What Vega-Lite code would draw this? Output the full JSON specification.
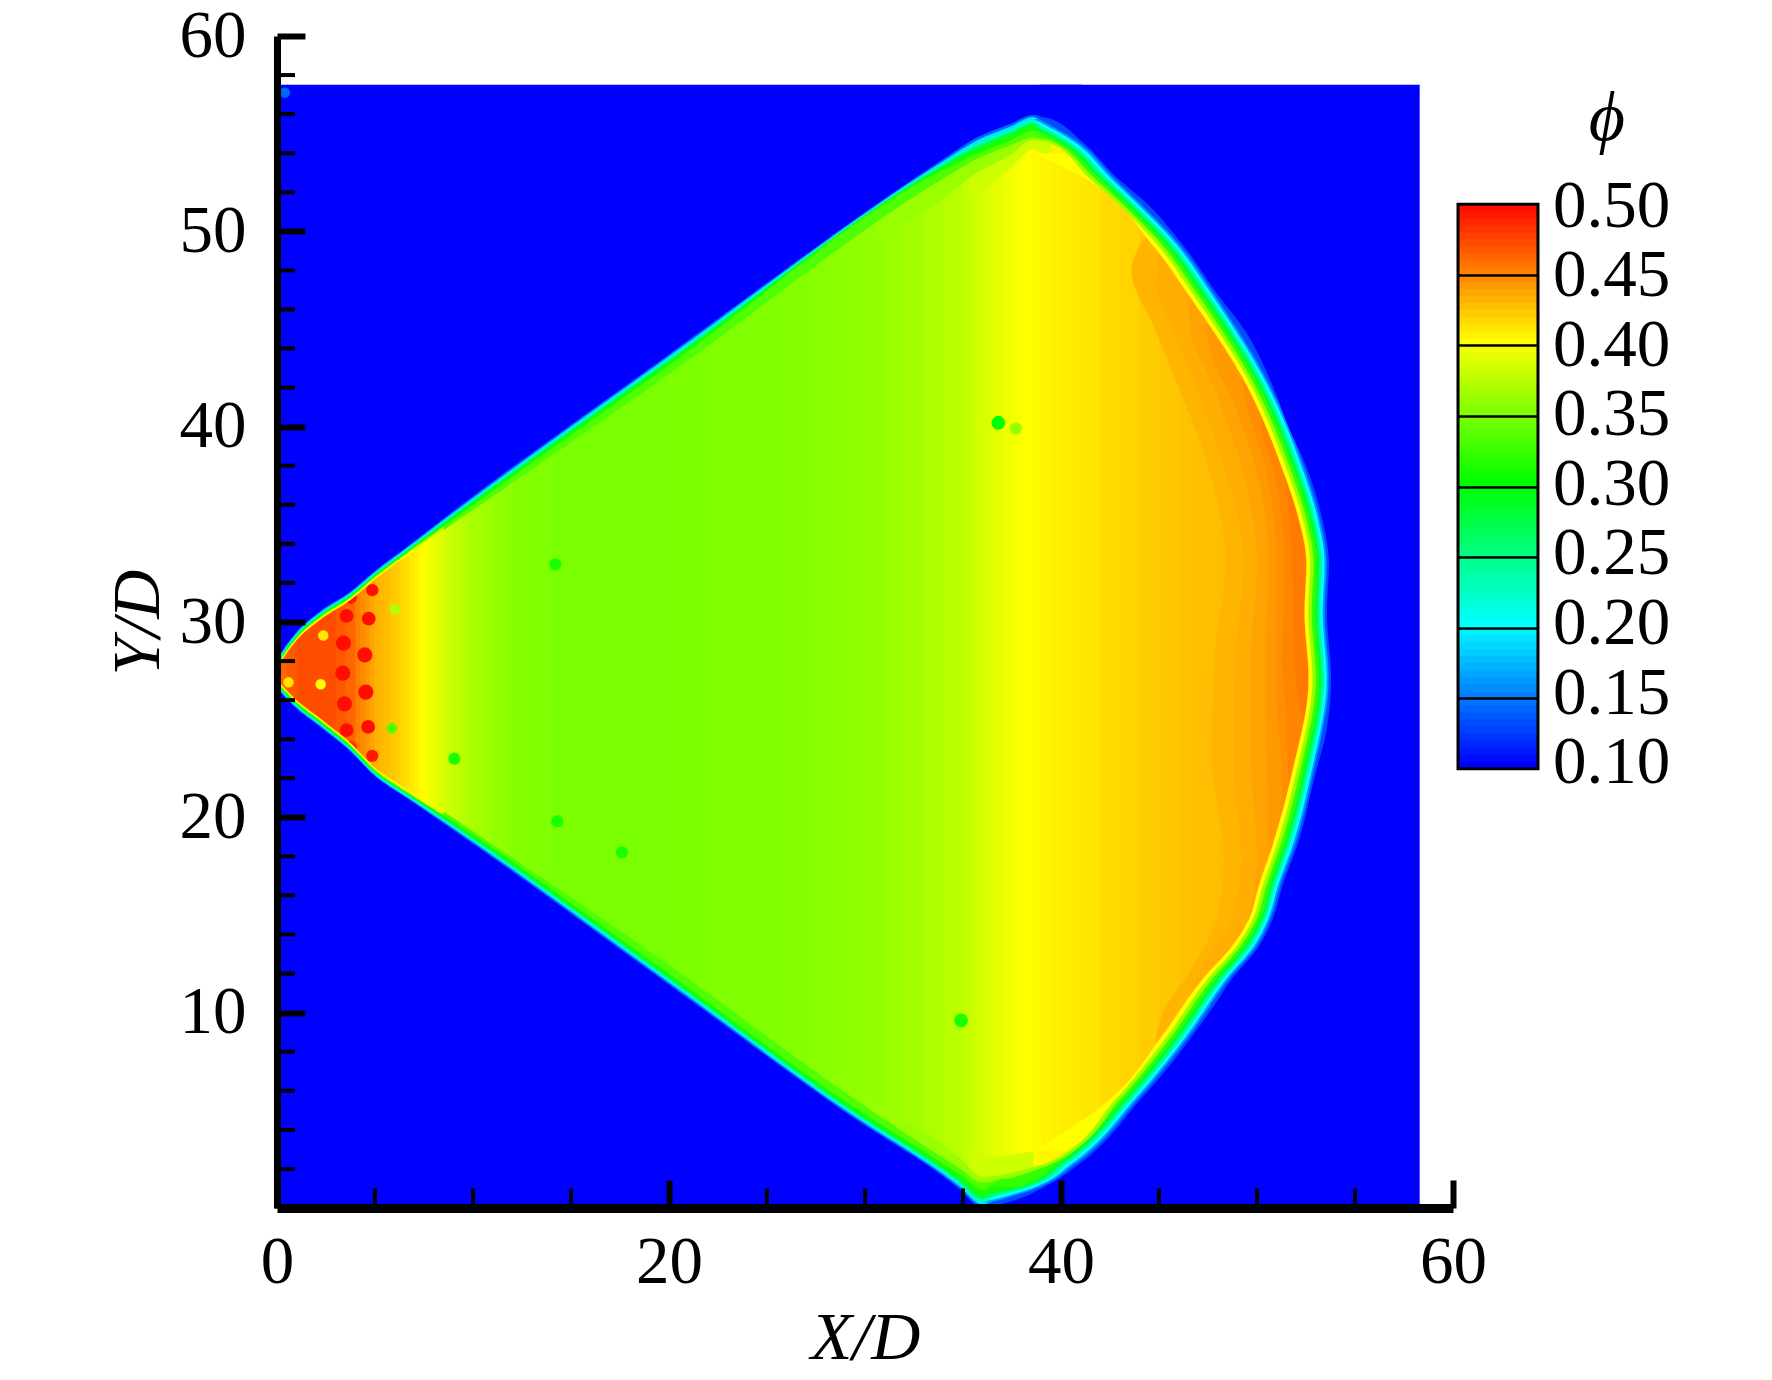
{
"$schema":"https://vega.github.io/schema/vega-lite/v6.json",
"background":"white",
"padding":{"left":104,"top":2,"right":20,"bottom":10},
"bounds":"flush",
"spacing":5,
"config":{"view":{"stroke":null},"font":"Liberation Serif"},
"datasets":{
"strips":[
{"x":0,"x2":0.6,"phi":0.46},{"x":0.5,"x2":1.1,"phi":0.465},{"x":1,"x2":3.1,"phi":0.47},{"x":3,"x2":3.6,"phi":0.465},{"x":3.5,"x2":4.1,"phi":0.46},{"x":4,"x2":4.3,"phi":0.45},{"x":4.25,"x2":4.55,"phi":0.445},{"x":4.5,"x2":4.8,"phi":0.44},{"x":4.75,"x2":5.05,"phi":0.435},{"x":5,"x2":5.3,"phi":0.43},{"x":5.25,"x2":5.55,"phi":0.427},{"x":5.5,"x2":5.8,"phi":0.425},{"x":5.75,"x2":6.05,"phi":0.422},{"x":6,"x2":6.3,"phi":0.42},{"x":6.25,"x2":6.55,"phi":0.416},{"x":6.5,"x2":6.8,"phi":0.413},{"x":6.75,"x2":7.05,"phi":0.409},{"x":7,"x2":7.3,"phi":0.405},{"x":7.25,"x2":7.55,"phi":0.401},{"x":7.5,"x2":7.8,"phi":0.398},{"x":7.75,"x2":8.05,"phi":0.394},{"x":8,"x2":8.3,"phi":0.39},{"x":8.25,"x2":8.55,"phi":0.386},{"x":8.5,"x2":8.8,"phi":0.383},{"x":8.75,"x2":9.05,"phi":0.379},{"x":9,"x2":9.3,"phi":0.376},{"x":9.25,"x2":9.55,"phi":0.373},{"x":9.5,"x2":9.8,"phi":0.37},{"x":9.75,"x2":10.05,"phi":0.367},{"x":10,"x2":10.6,"phi":0.365},{"x":10.5,"x2":11.1,"phi":0.361},{"x":11,"x2":11.6,"phi":0.358},{"x":11.5,"x2":12.1,"phi":0.355},{"x":12,"x2":13.1,"phi":0.352},{"x":13,"x2":14.1,"phi":0.35},{"x":14,"x2":16.1,"phi":0.348},{"x":16,"x2":20.1,"phi":0.348},{"x":20,"x2":22.1,"phi":0.349},{"x":22,"x2":24.1,"phi":0.35},{"x":24,"x2":26.1,"phi":0.351},{"x":26,"x2":27.1,"phi":0.352},{"x":27,"x2":28.1,"phi":0.353},{"x":28,"x2":29.1,"phi":0.355},{"x":29,"x2":30.1,"phi":0.356},{"x":30,"x2":31.1,"phi":0.358},{"x":31,"x2":32.1,"phi":0.361},{"x":32,"x2":33.1,"phi":0.364},{"x":33,"x2":34.1,"phi":0.368},{"x":34,"x2":35.1,"phi":0.372},{"x":35,"x2":35.6,"phi":0.377},{"x":35.5,"x2":36.1,"phi":0.381},{"x":36,"x2":36.6,"phi":0.385},{"x":36.5,"x2":37.1,"phi":0.389},{"x":37,"x2":37.6,"phi":0.393},{"x":37.5,"x2":38.1,"phi":0.397},{"x":38,"x2":38.6,"phi":0.4},{"x":38.5,"x2":39.1,"phi":0.402},{"x":39,"x2":39.6,"phi":0.404},{"x":39.5,"x2":40.1,"phi":0.405},{"x":40,"x2":40.6,"phi":0.407},{"x":40.5,"x2":41.1,"phi":0.408},{"x":41,"x2":42.1,"phi":0.41},{"x":42,"x2":43.1,"phi":0.414},{"x":43,"x2":44.1,"phi":0.417},{"x":44,"x2":45.1,"phi":0.42},{"x":45,"x2":46.1,"phi":0.422},{"x":46,"x2":47.1,"phi":0.424},{"x":47,"x2":48.1,"phi":0.425},{"x":48,"x2":50.1,"phi":0.426},{"x":50,"x2":52.1,"phi":0.428},{"x":52,"x2":54.5,"phi":0.43}
],
"crescent":[
{"y":8.5,"x":44.8,"phi":0.429},{"y":10,"x":45.2,"phi":0.429},{"y":12,"x":46.5,"phi":0.429},{"y":15,"x":48,"phi":0.429},{"y":18,"x":48.3,"phi":0.429},{"y":23,"x":47.7,"phi":0.429},{"y":28,"x":47.8,"phi":0.429},{"y":33,"x":48.4,"phi":0.429},{"y":38,"x":47.5,"phi":0.429},{"y":42,"x":46,"phi":0.429},{"y":45,"x":44.8,"phi":0.429},{"y":48,"x":43.6,"phi":0.429},{"y":50,"x":44.5,"phi":0.429},
{"y":10,"x":46.2,"phi":0.432},{"y":12,"x":47,"phi":0.432},{"y":15,"x":48.8,"phi":0.432},{"y":18,"x":49.2,"phi":0.432},{"y":23,"x":48.8,"phi":0.432},{"y":28,"x":48.9,"phi":0.432},{"y":33,"x":49.3,"phi":0.432},{"y":38,"x":48.3,"phi":0.432},{"y":42,"x":46.9,"phi":0.432},{"y":45,"x":45.7,"phi":0.432},{"y":47,"x":44.9,"phi":0.432},{"y":49,"x":45,"phi":0.432},
{"y":12,"x":47.7,"phi":0.436},{"y":15,"x":49.6,"phi":0.436},{"y":18,"x":50,"phi":0.436},{"y":23,"x":49.7,"phi":0.436},{"y":28,"x":49.7,"phi":0.436},{"y":33,"x":50,"phi":0.436},{"y":38,"x":49.2,"phi":0.436},{"y":42,"x":47.8,"phi":0.436},{"y":45,"x":46.6,"phi":0.436},{"y":47,"x":46.5,"phi":0.436},
{"y":15,"x":50,"phi":0.44},{"y":18,"x":50.6,"phi":0.44},{"y":23,"x":50.5,"phi":0.44},{"y":28,"x":50.4,"phi":0.44},{"y":33,"x":50.6,"phi":0.44},{"y":38,"x":49.9,"phi":0.44},{"y":41,"x":48.9,"phi":0.44},{"y":44,"x":47.6,"phi":0.44},{"y":45.3,"x":47.4,"phi":0.44},
{"y":18,"x":51,"phi":0.444},{"y":22,"x":51.3,"phi":0.444},{"y":26,"x":51,"phi":0.444},{"y":33,"x":51,"phi":0.444},{"y":38,"x":50.4,"phi":0.444},{"y":41,"x":49.5,"phi":0.444},{"y":43,"x":49.1,"phi":0.444},
{"y":21,"x":51.6,"phi":0.448},{"y":25,"x":51.5,"phi":0.448},{"y":28,"x":51.3,"phi":0.448},{"y":33,"x":51.4,"phi":0.448},{"y":38,"x":50.8,"phi":0.448},{"y":40,"x":50.2,"phi":0.448},{"y":41,"x":50.2,"phi":0.448},
{"y":25,"x":52.3,"phi":0.452},{"y":28,"x":51.9,"phi":0.452},{"y":33,"x":51.8,"phi":0.452},{"y":36,"x":51.6,"phi":0.452},{"y":38,"x":51.4,"phi":0.452}
],
"spots":[
{"x":4.86,"y":31.63,"phi":0.495,"kind":"small"},{"x":3.77,"y":31.24,"phi":0.49,"kind":"small"},{"x":3.55,"y":30.31,"phi":0.495,"kind":"mid"},{"x":4.68,"y":30.17,"phi":0.495,"kind":"mid"},{"x":3.39,"y":28.92,"phi":0.495,"kind":"large"},{"x":4.48,"y":28.32,"phi":0.495,"kind":"large"},{"x":3.36,"y":27.38,"phi":0.495,"kind":"large"},{"x":4.53,"y":26.41,"phi":0.495,"kind":"large"},{"x":3.44,"y":25.81,"phi":0.495,"kind":"large"},{"x":3.55,"y":24.46,"phi":0.495,"kind":"mid"},{"x":4.65,"y":24.63,"phi":0.495,"kind":"mid"},{"x":3.77,"y":23.61,"phi":0.48,"kind":"small"},{"x":4.86,"y":23.15,"phi":0.49,"kind":"small"},
{"x":6.03,"y":30.65,"phi":0.37,"kind":"tiny"},{"x":2.36,"y":29.31,"phi":0.41,"kind":"tiny"},{"x":0.59,"y":26.91,"phi":0.41,"kind":"tiny"},{"x":2.23,"y":26.81,"phi":0.4,"kind":"tiny"},{"x":5.86,"y":24.56,"phi":0.33,"kind":"tiny"},{"x":9.05,"y":23.0,"phi":0.31,"kind":"small"},{"x":14.2,"y":32.95,"phi":0.31,"kind":"small"},{"x":14.3,"y":19.8,"phi":0.31,"kind":"small"},{"x":17.6,"y":18.2,"phi":0.31,"kind":"small"},{"x":34.9,"y":9.6,"phi":0.31,"kind":"mid"},{"x":36.8,"y":40.2,"phi":0.3,"kind":"mid"},{"x":37.7,"y":39.9,"phi":0.36,"kind":"small"},{"x":0.4,"y":57.1,"phi":0.14,"kind":"tiny"}
],
"upper":[
{"x":0,"y":27.66,"phi":0.4},{"x":0.6,"y":28.56,"phi":0.4},{"x":1,"y":29.06,"phi":0.4},{"x":2.2,"y":30.11,"phi":0.4},{"x":3.8,"y":31.16,"phi":0.4},{"x":5.1,"y":32.26,"phi":0.4},{"x":6.3,"y":33.16,"phi":0.4},{"x":7,"y":33.6,"phi":0.4},
{"x":35.3,"y":51.6,"phi":0.38},{"x":35.7,"y":51.9,"phi":0.38},{"x":37.4,"y":53.2,"phi":0.38},{"x":38.6,"y":54.2,"phi":0.38},{"x":39.5,"y":53.6,"phi":0.38},
{"x":0,"y":27.74,"phi":0.361},{"x":0.6,"y":28.64,"phi":0.361},{"x":1,"y":29.14,"phi":0.361},{"x":2.2,"y":30.19,"phi":0.361},{"x":3.8,"y":31.24,"phi":0.361},{"x":5.1,"y":32.34,"phi":0.361},{"x":6.3,"y":33.24,"phi":0.361},{"x":8.5,"y":34.8,"phi":0.361},{"x":10,"y":35.9,"phi":0.361},
{"x":30.6,"y":49.6,"phi":0.36},{"x":34,"y":51.7,"phi":0.36},{"x":35.7,"y":53.0,"phi":0.36},{"x":37.4,"y":53.9,"phi":0.36},{"x":38.6,"y":54.7,"phi":0.36},{"x":39.27,"y":54.6,"phi":0.36},
{"x":8.5,"y":34.7,"phi":0.33},{"x":20,"y":42.7,"phi":0.33},{"x":34,"y":52.7,"phi":0.33},{"x":35.7,"y":53.7,"phi":0.33},{"x":37.4,"y":54.4,"phi":0.33},{"x":38.6,"y":54.8,"phi":0.33},{"x":39.3,"y":54.6,"phi":0.33},
{"x":0,"y":27.8,"phi":0.31},{"x":0.6,"y":28.7,"phi":0.31},{"x":1,"y":29.2,"phi":0.31},{"x":2.2,"y":30.25,"phi":0.31},{"x":3.8,"y":31.3,"phi":0.31},{"x":5.1,"y":32.4,"phi":0.31},{"x":6.3,"y":33.3,"phi":0.31},{"x":8.5,"y":34.9,"phi":0.31},{"x":20,"y":43.15,"phi":0.31},{"x":34,"y":53.15,"phi":0.31},{"x":35.7,"y":53.95,"phi":0.31},{"x":37.4,"y":54.65,"phi":0.31},{"x":38.6,"y":55.15,"phi":0.31},{"x":39.59,"y":54.6,"phi":0.31},
{"x":0,"y":27.86,"phi":0.27},{"x":0.6,"y":28.76,"phi":0.27},{"x":1,"y":29.26,"phi":0.27},{"x":2.2,"y":30.31,"phi":0.27},{"x":3.8,"y":31.36,"phi":0.27},{"x":5.1,"y":32.46,"phi":0.27},{"x":6.3,"y":33.36,"phi":0.27},{"x":8.5,"y":35.0,"phi":0.27},{"x":20,"y":43.3,"phi":0.27},{"x":34,"y":53.3,"phi":0.27},{"x":35.7,"y":54.2,"phi":0.27},{"x":37.4,"y":54.9,"phi":0.27},{"x":38.6,"y":55.4,"phi":0.27},{"x":39.89,"y":54.6,"phi":0.27},
{"x":0,"y":27.92,"phi":0.23},{"x":0.6,"y":28.82,"phi":0.23},{"x":1,"y":29.32,"phi":0.23},{"x":2.2,"y":30.37,"phi":0.23},{"x":3.8,"y":31.42,"phi":0.23},{"x":5.1,"y":32.52,"phi":0.23},{"x":6.3,"y":33.42,"phi":0.23},{"x":8.5,"y":35.08,"phi":0.23},{"x":20,"y":43.4,"phi":0.23},{"x":34,"y":53.4,"phi":0.23},{"x":35.7,"y":54.35,"phi":0.23},{"x":37.4,"y":55.05,"phi":0.23},{"x":38.6,"y":55.55,"phi":0.23},{"x":40.16,"y":54.6,"phi":0.23},
{"x":0,"y":27.98,"phi":0.19},{"x":0.6,"y":28.88,"phi":0.19},{"x":1,"y":29.38,"phi":0.19},{"x":2.2,"y":30.43,"phi":0.19},{"x":3.8,"y":31.48,"phi":0.19},{"x":5.1,"y":32.58,"phi":0.19},{"x":6.3,"y":33.48,"phi":0.19},{"x":8.5,"y":35.15,"phi":0.19},{"x":20,"y":43.5,"phi":0.19},{"x":34,"y":53.5,"phi":0.19},{"x":35.7,"y":54.5,"phi":0.19},{"x":37.4,"y":55.2,"phi":0.19},{"x":38.6,"y":55.7,"phi":0.19},{"x":40.4,"y":54.6,"phi":0.19},
{"x":0,"y":28.04,"phi":0.14},{"x":0.6,"y":28.94,"phi":0.14},{"x":1,"y":29.44,"phi":0.14},{"x":2.2,"y":30.49,"phi":0.14},{"x":3.8,"y":31.54,"phi":0.14},{"x":5.1,"y":32.64,"phi":0.14},{"x":6.3,"y":33.54,"phi":0.14},{"x":8.5,"y":35.22,"phi":0.14},{"x":20,"y":43.6,"phi":0.14},{"x":34,"y":53.6,"phi":0.14},{"x":35.7,"y":54.65,"phi":0.14},{"x":37.4,"y":55.35,"phi":0.14},{"x":38.6,"y":55.85,"phi":0.14},{"x":40.84,"y":54.6,"phi":0.14},
{"x":0,"y":28.1,"phi":0.1},{"x":0.6,"y":29.0,"phi":0.1},{"x":1,"y":29.5,"phi":0.1},{"x":2.2,"y":30.55,"phi":0.1},{"x":3.8,"y":31.6,"phi":0.1},{"x":5.1,"y":32.7,"phi":0.1},{"x":6.3,"y":33.6,"phi":0.1},{"x":8.5,"y":35.3,"phi":0.1},{"x":20,"y":43.7,"phi":0.1},{"x":34,"y":53.7,"phi":0.1},{"x":35.7,"y":54.8,"phi":0.1},{"x":37.4,"y":55.5,"phi":0.1},{"x":38.6,"y":55.95,"phi":0.1},{"x":38.9,"y":55.9,"phi":0.1},{"x":39.5,"y":55.76,"phi":0.1},{"x":41.07,"y":54.6,"phi":0.1}
],
"lower":[
{"x":0,"y":27.04,"phi":0.4},{"x":0.9,"y":26.09,"phi":0.4},{"x":2.24,"y":25.04,"phi":0.4},{"x":3.6,"y":23.94,"phi":0.4},{"x":5,"y":22.54,"phi":0.4},{"x":6.6,"y":21.44,"phi":0.4},{"x":7,"y":21.15,"phi":0.4},
{"x":35.3,"y":3.2,"phi":0.38},{"x":36,"y":2.6,"phi":0.38},{"x":38.6,"y":2.9,"phi":0.38},
{"x":0,"y":26.96,"phi":0.361},{"x":0.9,"y":26.01,"phi":0.361},{"x":2.24,"y":24.96,"phi":0.361},{"x":3.6,"y":23.86,"phi":0.361},{"x":5,"y":22.46,"phi":0.361},{"x":6.6,"y":21.36,"phi":0.361},{"x":8.5,"y":20.06,"phi":0.361},{"x":10,"y":19.06,"phi":0.361},
{"x":30,"y":5.7,"phi":0.36},{"x":34.8,"y":2.6,"phi":0.36},{"x":36,"y":1.6,"phi":0.36},{"x":39.29,"y":2.3,"phi":0.36},
{"x":8.5,"y":20.3,"phi":0.33},{"x":20,"y":12.44,"phi":0.33},{"x":29,"y":5.9,"phi":0.33},{"x":34.8,"y":2.05,"phi":0.33},{"x":36,"y":1.3,"phi":0.33},{"x":38,"y":1.9,"phi":0.33},{"x":39.4,"y":2.3,"phi":0.33},
{"x":0,"y":26.9,"phi":0.31},{"x":0.9,"y":25.95,"phi":0.31},{"x":2.24,"y":24.9,"phi":0.31},{"x":3.6,"y":23.8,"phi":0.31},{"x":5,"y":22.4,"phi":0.31},{"x":6.6,"y":21.3,"phi":0.31},{"x":8.5,"y":20.1,"phi":0.31},{"x":20,"y":11.99,"phi":0.31},{"x":29,"y":5.45,"phi":0.31},{"x":34.8,"y":1.75,"phi":0.31},{"x":36,"y":0.95,"phi":0.31},{"x":37,"y":1.45,"phi":0.31},{"x":39.6,"y":2.3,"phi":0.31},
{"x":0,"y":26.84,"phi":0.27},{"x":0.9,"y":25.89,"phi":0.27},{"x":2.24,"y":24.84,"phi":0.27},{"x":3.6,"y":23.74,"phi":0.27},{"x":5,"y":22.34,"phi":0.27},{"x":6.6,"y":21.24,"phi":0.27},{"x":8.5,"y":20.0,"phi":0.27},{"x":20,"y":11.84,"phi":0.27},{"x":29,"y":5.3,"phi":0.27},{"x":34.8,"y":1.5,"phi":0.27},{"x":36,"y":0.65,"phi":0.27},{"x":37.74,"y":1.05,"phi":0.27},{"x":39.88,"y":2.3,"phi":0.27},
{"x":0,"y":26.78,"phi":0.23},{"x":0.9,"y":25.83,"phi":0.23},{"x":2.24,"y":24.78,"phi":0.23},{"x":3.6,"y":23.68,"phi":0.23},{"x":5,"y":22.28,"phi":0.23},{"x":6.6,"y":21.18,"phi":0.23},{"x":8.5,"y":19.92,"phi":0.23},{"x":20,"y":11.74,"phi":0.23},{"x":29,"y":5.2,"phi":0.23},{"x":34.8,"y":1.38,"phi":0.23},{"x":36,"y":0.45,"phi":0.23},{"x":38.04,"y":1.05,"phi":0.23},{"x":40.14,"y":2.3,"phi":0.23},
{"x":0,"y":26.72,"phi":0.19},{"x":0.9,"y":25.77,"phi":0.19},{"x":2.24,"y":24.72,"phi":0.19},{"x":3.6,"y":23.62,"phi":0.19},{"x":5,"y":22.22,"phi":0.19},{"x":6.6,"y":21.12,"phi":0.19},{"x":8.5,"y":19.85,"phi":0.19},{"x":20,"y":11.64,"phi":0.19},{"x":29,"y":5.1,"phi":0.19},{"x":34.8,"y":1.25,"phi":0.19},{"x":36,"y":0.3,"phi":0.19},{"x":37.4,"y":0.75,"phi":0.19},{"x":38.33,"y":1.05,"phi":0.19},{"x":40.37,"y":2.3,"phi":0.19},
{"x":0,"y":26.66,"phi":0.14},{"x":0.9,"y":25.71,"phi":0.14},{"x":2.24,"y":24.66,"phi":0.14},{"x":3.6,"y":23.56,"phi":0.14},{"x":5,"y":22.16,"phi":0.14},{"x":6.6,"y":21.06,"phi":0.14},{"x":8.5,"y":19.78,"phi":0.14},{"x":20,"y":11.54,"phi":0.14},{"x":29,"y":5.0,"phi":0.14},{"x":34.8,"y":1.12,"phi":0.14},{"x":36,"y":0.15,"phi":0.14},{"x":37.4,"y":0.55,"phi":0.14},{"x":38.84,"y":1.05,"phi":0.14},{"x":40.78,"y":2.3,"phi":0.14},
{"x":0,"y":26.6,"phi":0.1},{"x":0.9,"y":25.65,"phi":0.1},{"x":2.24,"y":24.6,"phi":0.1},{"x":3.6,"y":23.5,"phi":0.1},{"x":5,"y":22.1,"phi":0.1},{"x":6.6,"y":21.0,"phi":0.1},{"x":8.5,"y":19.7,"phi":0.1},{"x":20,"y":11.44,"phi":0.1},{"x":29,"y":4.9,"phi":0.1},{"x":34.8,"y":1.0,"phi":0.1},{"x":36,"y":0,"phi":0.1},{"x":37.3,"y":0.3,"phi":0.1},{"x":39.1,"y":1.05,"phi":0.1},{"x":41,"y":2.3,"phi":0.1}
],
"right":[
{"y":2.9,"x":38.6,"phi":0.4},{"y":5.6,"x":42.55,"phi":0.4},{"y":8.8,"x":45.15,"phi":0.4},{"y":11.7,"x":47.2,"phi":0.4},{"y":13.4,"x":48.72,"phi":0.4},{"y":14.8,"x":49.59,"phi":0.4},{"y":16.5,"x":50.09,"phi":0.4},{"y":18.7,"x":50.83,"phi":0.4},{"y":22.3,"x":51.79,"phi":0.4},{"y":27.1,"x":52.63,"phi":0.4},{"y":30.5,"x":52.42,"phi":0.4},{"y":33,"x":52.52,"phi":0.4},{"y":35.4,"x":52.09,"phi":0.4},{"y":38,"x":51.23,"phi":0.4},{"y":42.1,"x":49.48,"phi":0.4},{"y":46.9,"x":46.4,"phi":0.4},{"y":49.2,"x":44.75,"phi":0.4},{"y":52.8,"x":41.07,"phi":0.4},{"y":54.0,"x":38.6,"phi":0.4},
{"y":1.5,"x":36,"phi":0.36},{"y":2.3,"x":39.29,"phi":0.36},{"y":5.6,"x":42.82,"phi":0.36},{"y":8.8,"x":45.42,"phi":0.36},{"y":11.7,"x":47.46,"phi":0.36},{"y":13.4,"x":48.96,"phi":0.36},{"y":14.8,"x":49.8,"phi":0.36},{"y":16.5,"x":50.3,"phi":0.36},{"y":18.7,"x":51.05,"phi":0.36},{"y":22.3,"x":52.0,"phi":0.36},{"y":27.1,"x":52.83,"phi":0.36},{"y":30.5,"x":52.62,"phi":0.36},{"y":33,"x":52.72,"phi":0.36},{"y":35.4,"x":52.3,"phi":0.36},{"y":38,"x":51.45,"phi":0.36},{"y":42.1,"x":49.71,"phi":0.36},{"y":46.9,"x":46.66,"phi":0.36},{"y":49.2,"x":45.02,"phi":0.36},{"y":52.8,"x":41.37,"phi":0.36},{"y":54.6,"x":39.27,"phi":0.36},{"y":54.7,"x":38.6,"phi":0.36},
{"y":1.1,"x":36,"phi":0.32},{"y":2.3,"x":39.6,"phi":0.32},{"y":5.6,"x":43.05,"phi":0.32},{"y":8.8,"x":45.65,"phi":0.32},{"y":11.7,"x":47.69,"phi":0.32},{"y":13.4,"x":49.16,"phi":0.32},{"y":14.8,"x":49.98,"phi":0.32},{"y":16.5,"x":50.48,"phi":0.32},{"y":18.7,"x":51.24,"phi":0.32},{"y":22.3,"x":52.18,"phi":0.32},{"y":27.1,"x":53.0,"phi":0.32},{"y":30.5,"x":52.79,"phi":0.32},{"y":33,"x":52.89,"phi":0.32},{"y":35.4,"x":52.48,"phi":0.32},{"y":38,"x":51.64,"phi":0.32},{"y":42.1,"x":49.9,"phi":0.32},{"y":46.9,"x":46.89,"phi":0.32},{"y":49.2,"x":45.25,"phi":0.32},{"y":52.8,"x":41.63,"phi":0.32},{"y":54.6,"x":39.59,"phi":0.32},{"y":55.05,"x":38.6,"phi":0.32},
{"y":0.85,"x":36,"phi":0.28},{"y":1.05,"x":37.74,"phi":0.28},{"y":2.3,"x":39.88,"phi":0.28},{"y":5.6,"x":43.26,"phi":0.28},{"y":8.8,"x":45.86,"phi":0.28},{"y":11.7,"x":47.89,"phi":0.28},{"y":13.4,"x":49.36,"phi":0.28},{"y":14.8,"x":50.15,"phi":0.28},{"y":16.5,"x":50.65,"phi":0.28},{"y":18.7,"x":51.42,"phi":0.28},{"y":22.3,"x":52.35,"phi":0.28},{"y":27.1,"x":53.16,"phi":0.28},{"y":30.5,"x":52.95,"phi":0.28},{"y":33,"x":53.05,"phi":0.28},{"y":35.4,"x":52.65,"phi":0.28},{"y":38,"x":51.82,"phi":0.28},{"y":42.1,"x":50.09,"phi":0.28},{"y":46.9,"x":47.09,"phi":0.28},{"y":49.2,"x":45.46,"phi":0.28},{"y":52.8,"x":41.87,"phi":0.28},{"y":54.6,"x":39.89,"phi":0.28},{"y":55.25,"x":38.6,"phi":0.28},
{"y":0.65,"x":36,"phi":0.24},{"y":1.05,"x":38.04,"phi":0.24},{"y":2.3,"x":40.14,"phi":0.24},{"y":5.6,"x":43.45,"phi":0.24},{"y":8.8,"x":46.05,"phi":0.24},{"y":11.7,"x":48.08,"phi":0.24},{"y":13.4,"x":49.52,"phi":0.24},{"y":14.8,"x":50.3,"phi":0.24},{"y":16.5,"x":50.8,"phi":0.24},{"y":18.7,"x":51.57,"phi":0.24},{"y":22.3,"x":52.5,"phi":0.24},{"y":27.1,"x":53.3,"phi":0.24},{"y":30.5,"x":53.09,"phi":0.24},{"y":33,"x":53.19,"phi":0.24},{"y":35.4,"x":52.8,"phi":0.24},{"y":38,"x":51.97,"phi":0.24},{"y":42.1,"x":50.25,"phi":0.24},{"y":46.9,"x":47.28,"phi":0.24},{"y":49.2,"x":45.65,"phi":0.24},{"y":52.8,"x":42.08,"phi":0.24},{"y":54.6,"x":40.16,"phi":0.24},{"y":55.4,"x":38.6,"phi":0.24},
{"y":0.45,"x":36,"phi":0.2},{"y":1.05,"x":38.33,"phi":0.2},{"y":2.3,"x":40.37,"phi":0.2},{"y":5.6,"x":43.63,"phi":0.2},{"y":8.8,"x":46.23,"phi":0.2},{"y":11.7,"x":48.24,"phi":0.2},{"y":13.4,"x":49.68,"phi":0.2},{"y":14.8,"x":50.43,"phi":0.2},{"y":16.5,"x":50.93,"phi":0.2},{"y":18.7,"x":51.71,"phi":0.2},{"y":22.3,"x":52.63,"phi":0.2},{"y":27.1,"x":53.43,"phi":0.2},{"y":30.5,"x":53.22,"phi":0.2},{"y":33,"x":53.32,"phi":0.2},{"y":35.4,"x":52.93,"phi":0.2},{"y":38,"x":52.11,"phi":0.2},{"y":42.1,"x":50.4,"phi":0.2},{"y":46.9,"x":47.44,"phi":0.2},{"y":49.2,"x":45.83,"phi":0.2},{"y":52.8,"x":42.27,"phi":0.2},{"y":54.6,"x":40.4,"phi":0.2},{"y":55.6,"x":38.6,"phi":0.2},
{"y":0.28,"x":36,"phi":0.16},{"y":1.05,"x":38.62,"phi":0.16},{"y":2.3,"x":40.6,"phi":0.16},{"y":5.6,"x":43.8,"phi":0.16},{"y":8.8,"x":46.4,"phi":0.16},{"y":11.7,"x":48.41,"phi":0.16},{"y":13.4,"x":49.84,"phi":0.16},{"y":14.8,"x":50.57,"phi":0.16},{"y":16.5,"x":51.07,"phi":0.16},{"y":18.7,"x":51.86,"phi":0.16},{"y":22.3,"x":52.77,"phi":0.16},{"y":27.1,"x":53.56,"phi":0.16},{"y":30.5,"x":53.35,"phi":0.16},{"y":33,"x":53.45,"phi":0.16},{"y":35.4,"x":53.07,"phi":0.16},{"y":38,"x":52.26,"phi":0.16},{"y":42.1,"x":50.55,"phi":0.16},{"y":46.9,"x":47.61,"phi":0.16},{"y":49.2,"x":46.0,"phi":0.16},{"y":52.8,"x":42.47,"phi":0.16},{"y":54.6,"x":40.65,"phi":0.16},{"y":55.75,"x":38.6,"phi":0.16},
{"y":0.15,"x":36,"phi":0.13},{"y":1.05,"x":38.84,"phi":0.13},{"y":2.3,"x":40.78,"phi":0.13},{"y":5.6,"x":43.94,"phi":0.13},{"y":8.8,"x":46.54,"phi":0.13},{"y":11.7,"x":48.54,"phi":0.13},{"y":13.4,"x":49.96,"phi":0.13},{"y":14.8,"x":50.67,"phi":0.13},{"y":16.5,"x":51.17,"phi":0.13},{"y":18.7,"x":51.97,"phi":0.13},{"y":22.3,"x":52.87,"phi":0.13},{"y":27.1,"x":53.66,"phi":0.13},{"y":30.5,"x":53.45,"phi":0.13},{"y":33,"x":53.55,"phi":0.13},{"y":35.4,"x":53.17,"phi":0.13},{"y":38,"x":52.37,"phi":0.13},{"y":42.1,"x":50.66,"phi":0.13},{"y":46.9,"x":47.74,"phi":0.13},{"y":49.2,"x":46.14,"phi":0.13},{"y":52.8,"x":42.62,"phi":0.13},{"y":54.6,"x":40.84,"phi":0.13},{"y":55.88,"x":38.6,"phi":0.13},
{"y":0,"x":36,"phi":0.1},{"y":0.3,"x":37.3,"phi":0.1},{"y":1.05,"x":39.1,"phi":0.1},{"y":2.3,"x":41,"phi":0.1},{"y":5.6,"x":44.1,"phi":0.1},{"y":7.1,"x":45.4,"phi":0.1},{"y":8.8,"x":46.7,"phi":0.1},{"y":10.2,"x":47.7,"phi":0.1},{"y":11.7,"x":48.7,"phi":0.1},{"y":13.4,"x":50.1,"phi":0.1},{"y":14.8,"x":50.8,"phi":0.1},{"y":16.5,"x":51.3,"phi":0.1},{"y":18.7,"x":52.1,"phi":0.1},{"y":22.3,"x":53.0,"phi":0.1},{"y":24.2,"x":53.5,"phi":0.1},{"y":27.1,"x":53.78,"phi":0.1},{"y":30.5,"x":53.57,"phi":0.1},{"y":33,"x":53.67,"phi":0.1},{"y":35.4,"x":53.3,"phi":0.1},{"y":38,"x":52.5,"phi":0.1},{"y":40,"x":51.6,"phi":0.1},{"y":42.1,"x":50.8,"phi":0.1},{"y":44.9,"x":49.4,"phi":0.1},{"y":46.9,"x":47.9,"phi":0.1},{"y":49.2,"x":46.3,"phi":0.1},{"y":51.5,"x":44.3,"phi":0.1},{"y":52.8,"x":42.8,"phi":0.1},{"y":54.6,"x":41.07,"phi":0.1},{"y":55.76,"x":39.5,"phi":0.1},{"y":55.9,"x":38.9,"phi":0.1},{"y":57.5,"x":38.9,"phi":0.1}
],
"xminor":[{"t":5},{"t":10},{"t":15},{"t":25},{"t":30},{"t":35},{"t":45},{"t":50},{"t":55}],
"yminor":[{"t":2},{"t":4},{"t":6},{"t":8},{"t":12},{"t":14},{"t":16},{"t":18},{"t":22},{"t":24},{"t":26},{"t":28},{"t":32},{"t":34},{"t":36},{"t":38},{"t":42},{"t":44},{"t":46},{"t":48},{"t":52},{"t":54},{"t":56},{"t":58}],
"bar":[
{"v":0.1,"v2":0.106},{"v":0.105,"v2":0.111},{"v":0.11,"v2":0.116},{"v":0.115,"v2":0.121},{"v":0.12,"v2":0.126},{"v":0.125,"v2":0.131},{"v":0.13,"v2":0.136},{"v":0.135,"v2":0.141},{"v":0.14,"v2":0.146},{"v":0.145,"v2":0.151},{"v":0.15,"v2":0.156},{"v":0.155,"v2":0.161},{"v":0.16,"v2":0.166},{"v":0.165,"v2":0.171},{"v":0.17,"v2":0.176},{"v":0.175,"v2":0.181},{"v":0.18,"v2":0.186},{"v":0.185,"v2":0.191},{"v":0.19,"v2":0.196},{"v":0.195,"v2":0.201},
{"v":0.2,"v2":0.206},{"v":0.205,"v2":0.211},{"v":0.21,"v2":0.216},{"v":0.215,"v2":0.221},{"v":0.22,"v2":0.226},{"v":0.225,"v2":0.231},{"v":0.23,"v2":0.236},{"v":0.235,"v2":0.241},{"v":0.24,"v2":0.246},{"v":0.245,"v2":0.251},{"v":0.25,"v2":0.256},{"v":0.255,"v2":0.261},{"v":0.26,"v2":0.266},{"v":0.265,"v2":0.271},{"v":0.27,"v2":0.276},{"v":0.275,"v2":0.281},{"v":0.28,"v2":0.286},{"v":0.285,"v2":0.291},{"v":0.29,"v2":0.296},{"v":0.295,"v2":0.301},
{"v":0.3,"v2":0.306},{"v":0.305,"v2":0.311},{"v":0.31,"v2":0.316},{"v":0.315,"v2":0.321},{"v":0.32,"v2":0.326},{"v":0.325,"v2":0.331},{"v":0.33,"v2":0.336},{"v":0.335,"v2":0.341},{"v":0.34,"v2":0.346},{"v":0.345,"v2":0.351},{"v":0.35,"v2":0.356},{"v":0.355,"v2":0.361},{"v":0.36,"v2":0.366},{"v":0.365,"v2":0.371},{"v":0.37,"v2":0.376},{"v":0.375,"v2":0.381},{"v":0.38,"v2":0.386},{"v":0.385,"v2":0.391},{"v":0.39,"v2":0.396},{"v":0.395,"v2":0.401},
{"v":0.4,"v2":0.406},{"v":0.405,"v2":0.411},{"v":0.41,"v2":0.416},{"v":0.415,"v2":0.421},{"v":0.42,"v2":0.426},{"v":0.425,"v2":0.431},{"v":0.43,"v2":0.436},{"v":0.435,"v2":0.441},{"v":0.44,"v2":0.446},{"v":0.445,"v2":0.451},{"v":0.45,"v2":0.456},{"v":0.455,"v2":0.461},{"v":0.46,"v2":0.466},{"v":0.465,"v2":0.471},{"v":0.47,"v2":0.476},{"v":0.475,"v2":0.481},{"v":0.48,"v2":0.486},{"v":0.485,"v2":0.491},{"v":0.49,"v2":0.496},{"v":0.495,"v2":0.5}
],
"barlabels":[{"x":1.1875,"pos":0.104,"label":"0.10"},{"x":1.1875,"pos":0.1533,"label":"0.15"},{"x":1.1875,"pos":0.2026,"label":"0.20"},{"x":1.1875,"pos":0.2519,"label":"0.25"},{"x":1.1875,"pos":0.3012,"label":"0.30"},{"x":1.1875,"pos":0.3505,"label":"0.35"},{"x":1.1875,"pos":0.3998,"label":"0.40"},{"x":1.1875,"pos":0.4491,"label":"0.45"},{"x":1.1875,"pos":0.4984,"label":"0.50"}]
},
"hconcat":[
{"width":1176,"height":1172,
"layer":[
{"data":{"name":"strips"},"mark":{"type":"rect"},
"encoding":{
"x":{"field":"x","type":"quantitative","scale":{"domain":[0,60],"nice":false},
"axis":{"values":[0,20,40,60],"title":"X/D","titleFont":"Liberation Serif","titleFontSize":68,"titleFontStyle":"italic","titleFontWeight":"normal","titleColor":"black","titlePadding":9,"labelFont":"Liberation Serif","labelFontSize":67,"labelColor":"black","labelPadding":49,"labelFlush":false,"labelOverlap":false,"tickSize":-28,"tickWidth":6,"tickColor":"black","domainColor":"black","domainWidth":9,"grid":false,"zindex":1}},
"x2":{"field":"x2"},
"y":{"datum":0,"type":"quantitative","scale":{"domain":[0,60],"nice":false},
"axis":{"values":[10,20,30,40,50,60],"title":"Y/D","titleFont":"Liberation Serif","titleFontSize":68,"titleFontStyle":"italic","titleFontWeight":"normal","titleColor":"black","titlePadding":7,"labelFont":"Liberation Serif","labelFontSize":67,"labelColor":"black","labelPadding":59,"labelFlush":false,"labelOverlap":false,"tickSize":-28,"tickWidth":6,"tickColor":"black","domainColor":"black","domainWidth":7,"grid":false,"zindex":1}},
"y2":{"datum":57},
"color":{"field":"phi","type":"quantitative","legend":null,"scale":{"domain":[0.1,0.2,0.3,0.4,0.5],"range":["#0000ff","#00ffff","#00ff00","#ffff00","#ff0000"],"interpolate":"rgb"}}
}},
{"data":{"name":"crescent"},"mark":{"type":"area","orient":"horizontal","interpolate":"monotone"},
"encoding":{
"y":{"field":"y","type":"quantitative"},
"x":{"field":"x","type":"quantitative"},
"x2":{"datum":57.5},
"detail":{"field":"phi","type":"nominal"},
"color":{"field":"phi","type":"quantitative","legend":null}
}},
{"data":{"name":"spots"},"transform":[{"filter":"datum.phi>0.2"}],"mark":{"type":"point","filled":true,"opacity":1,"shape":"circle"},
"encoding":{
"x":{"field":"x","type":"quantitative"},
"y":{"field":"y","type":"quantitative"},
"size":{"field":"kind","type":"ordinal","legend":null,"scale":{"domain":["large","mid","small","tiny"],"range":[230,110,45,22]}},
"color":{"field":"phi","type":"quantitative","legend":null}
}},
{"data":{"name":"upper"},"transform":[{"filter":"datum.phi>0.1"}],"mark":{"type":"area","interpolate":"monotone"},
"encoding":{
"x":{"field":"x","type":"quantitative"},
"y":{"field":"y","type":"quantitative"},
"y2":{"datum":57},
"detail":{"field":"phi","type":"nominal"},
"color":{"field":"phi","type":"quantitative","legend":null}
}},
{"data":{"name":"lower"},"mark":{"type":"area","interpolate":"monotone"},
"encoding":{
"x":{"field":"x","type":"quantitative"},
"y":{"field":"y","type":"quantitative"},
"y2":{"datum":0},
"detail":{"field":"phi","type":"nominal"},
"color":{"field":"phi","type":"quantitative","legend":null}
}},
{"data":{"name":"right"},"transform":[{"filter":"datum.phi>0.1"}],"mark":{"type":"area","orient":"horizontal","interpolate":"monotone"},
"encoding":{
"y":{"field":"y","type":"quantitative"},
"x":{"field":"x","type":"quantitative"},
"x2":{"datum":57.5},
"detail":{"field":"phi","type":"nominal"},
"color":{"field":"phi","type":"quantitative","legend":null}
}},
{"data":{"name":"upper"},"transform":[{"filter":"datum.phi<0.11"}],"mark":{"type":"area","interpolate":"monotone"},
"encoding":{
"x":{"field":"x","type":"quantitative"},
"y":{"field":"y","type":"quantitative"},
"y2":{"datum":57.5},
"color":{"field":"phi","type":"quantitative","legend":null}
}},
{"data":{"name":"right"},"transform":[{"filter":"datum.phi<0.11"}],"mark":{"type":"area","orient":"horizontal","interpolate":"monotone"},
"encoding":{
"y":{"field":"y","type":"quantitative"},
"x":{"field":"x","type":"quantitative"},
"x2":{"datum":58.3},
"color":{"field":"phi","type":"quantitative","legend":null}
}},
{"data":{"name":"spots"},"transform":[{"filter":"datum.phi<0.2"}],"mark":{"type":"point","filled":true,"opacity":1,"shape":"circle"},
"encoding":{
"x":{"field":"x","type":"quantitative"},
"y":{"field":"y","type":"quantitative"},
"size":{"field":"kind","type":"ordinal","legend":null},
"color":{"field":"phi","type":"quantitative","legend":null}
}},
{"data":{"name":"xminor"},"mark":{"type":"rule","color":"black","size":4},
"encoding":{
"x":{"field":"t","type":"quantitative"},
"y":{"datum":0,"type":"quantitative"},
"y2":{"datum":1.0}
}},
{"data":{"name":"yminor"},"mark":{"type":"rule","color":"black","size":4},
"encoding":{
"y":{"field":"t","type":"quantitative"},
"x":{"datum":0,"type":"quantitative"},
"x2":{"datum":0.92}
}}
]},
{"width":80,"height":1172,
"layer":[
{"data":{"name":"bar"},"mark":{"type":"rect"},
"encoding":{
"x":{"datum":0,"type":"quantitative","scale":{"domain":[0,1],"nice":false,"zero":false},"axis":null},
"x2":{"datum":1},
"y":{"field":"v","type":"quantitative","scale":{"domain":[-0.2111,0.6192],"nice":false,"zero":false},
"axis":{"orient":"right","values":[0.15,0.2,0.25,0.3,0.35,0.4,0.45],"title":null,"domain":false,"ticks":false,"labels":false,"grid":true,"gridColor":"black","gridWidth":2.5,"gridOpacity":1,"zindex":1}},
"y2":{"field":"v2"},
"color":{"field":"v","type":"quantitative","legend":null,"scale":{"domain":[0.1,0.2,0.3,0.4,0.5],"range":["#0000ff","#00ffff","#00ff00","#ffff00","#ff0000"],"interpolate":"rgb"}}
}},
{"data":{"values":[{"a":0,"b":1,"lo":0.1,"hi":0.5}]},"mark":{"type":"rect","fillOpacity":0,"stroke":"black","strokeWidth":3},
"encoding":{
"x":{"field":"a","type":"quantitative","axis":null},
"x2":{"field":"b"},
"y":{"field":"lo","type":"quantitative"},
"y2":{"field":"hi"}
}},
{"data":{"name":"barlabels"},"mark":{"type":"text","font":"Liberation Serif","fontSize":67,"color":"black","align":"left","baseline":"middle","clip":false},
"encoding":{
"x":{"field":"x","type":"quantitative","axis":null},
"y":{"field":"pos","type":"quantitative"},
"text":{"field":"label"}
}},
{"data":{"values":[{"x":1.86,"y":0.5607,"t":"ϕ"}]},"mark":{"type":"text","font":"Liberation Serif","fontSize":70,"fontStyle":"italic","color":"black","clip":false},
"encoding":{
"x":{"field":"x","type":"quantitative","axis":null},
"y":{"field":"y","type":"quantitative"},
"text":{"field":"t"}
}}
]}
]
}
